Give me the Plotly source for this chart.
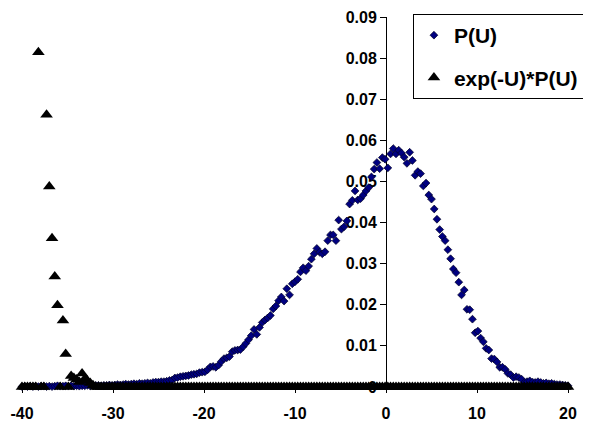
import plotly.graph_objects as go

# U values (bin centres), one row per 3 units
u_vals = [
    -40.0, -39.7, -39.4, -39.1, -38.8, -38.5, -38.2, -37.9, -37.6, -37.3,
    -37.0, -36.7, -36.4, -36.1, -35.8, -35.5, -35.2, -34.9, -34.6, -34.3,
    -34.0, -33.7, -33.4, -33.1, -32.8, -32.5, -32.2, -31.9, -31.6, -31.3,
    -31.0, -30.7, -30.4, -30.1, -29.8, -29.5, -29.2, -28.9, -28.6, -28.3,
    -28.0, -27.7, -27.4, -27.1, -26.8, -26.5, -26.2, -25.9, -25.6, -25.3,
    -25.0, -24.7, -24.4, -24.1, -23.8, -23.5, -23.2, -22.9, -22.6, -22.3,
    -22.0, -21.7, -21.4, -21.1, -20.8, -20.5, -20.2, -19.9, -19.6, -19.3,
    -19.0, -18.7, -18.4, -18.1, -17.8, -17.5, -17.2, -16.9, -16.6, -16.3,
    -16.0, -15.7, -15.4, -15.1, -14.8, -14.5, -14.2, -13.9, -13.6, -13.3,
    -13.0, -12.7, -12.4, -12.1, -11.8, -11.5, -11.2, -10.9, -10.6, -10.3,
    -10.0, -9.7, -9.4, -9.1, -8.8, -8.5, -8.2, -7.9, -7.6, -7.3,
    -7.0, -6.7, -6.4, -6.1, -5.8, -5.5, -5.2, -4.9, -4.6, -4.3,
    -4.0, -3.7, -3.4, -3.1, -2.8, -2.5, -2.2, -1.9, -1.6, -1.3,
    -1.0, -0.7, -0.4, -0.1, 0.2, 0.5, 0.8, 1.1, 1.4, 1.7,
    2.0, 2.3, 2.6, 2.9, 3.2, 3.5, 3.8, 4.1, 4.4, 4.7,
    5.0, 5.3, 5.6, 5.9, 6.2, 6.5, 6.8, 7.1, 7.4, 7.7,
    8.0, 8.3, 8.6, 8.9, 9.2, 9.5, 9.8, 10.1, 10.4, 10.7,
    11.0, 11.3, 11.6, 11.9, 12.2, 12.5, 12.8, 13.1, 13.4, 13.7,
    14.0, 14.3, 14.6, 14.9, 15.2, 15.5, 15.8, 16.1, 16.4, 16.7,
    17.0, 17.3, 17.6, 17.9, 18.2, 18.5, 18.8, 19.1, 19.4, 19.7,
    20.0,
]

p_u = [
    0.0001, 0.0002, 0.0001, 0.0002, 0.0001, 0.0002, 0.0001, 0.0002, 0.0002, 0.0001,
    0.0002, 0.0001, 0.0002, 0.0003, 0.0002, 0.0002, 0.0003, 0.0002, 0.0003, 0.0002,
    0.0003, 0.0002, 0.0003, 0.0003, 0.0004, 0.0003, 0.0003, 0.0004, 0.0004, 0.0003,
    0.0004, 0.0004, 0.0005, 0.0004, 0.0005, 0.0006, 0.0005, 0.0006, 0.0007, 0.0006,
    0.0007, 0.0008, 0.0007, 0.0009, 0.0008, 0.0009, 0.0010, 0.0009, 0.0011, 0.0012,
    0.0012, 0.0013, 0.0013, 0.0014, 0.0016, 0.0017, 0.0022, 0.0023, 0.0025, 0.0026,
    0.0027, 0.0028, 0.0030, 0.0031, 0.0032, 0.0035, 0.0036, 0.0037, 0.0042, 0.0049,
    0.0050, 0.0048, 0.0053, 0.0062, 0.0069, 0.0071, 0.0074, 0.0086, 0.0089, 0.0090,
    0.0091, 0.0098, 0.0106, 0.0115, 0.0125, 0.0140, 0.0128, 0.0145, 0.0157, 0.0163,
    0.0168, 0.0174, 0.0190, 0.0197, 0.0210, 0.0219, 0.0209, 0.0239, 0.0224, 0.0251,
    0.0256, 0.0262, 0.0280, 0.0290, 0.0283, 0.0294, 0.0311, 0.0324, 0.0337, 0.0328,
    0.0324, 0.0329, 0.0356, 0.0370, 0.0370, 0.0356, 0.0406, 0.0384, 0.0390, 0.0404,
    0.0445, 0.0454, 0.0477, 0.0455, 0.0458, 0.0467, 0.0477, 0.0485, 0.0511, 0.0530,
    0.0546, 0.0531, 0.0558, 0.0554, 0.0533, 0.0567, 0.0580, 0.0567, 0.0576, 0.0569,
    0.0559, 0.0544, 0.0571, 0.0551, 0.0515, 0.0524, 0.0519, 0.0489, 0.0496, 0.0467,
    0.0457, 0.0433, 0.0408, 0.0383, 0.0366, 0.0356, 0.0334, 0.0312, 0.0287, 0.0278,
    0.0255, 0.0224, 0.0236, 0.0189, 0.0188, 0.0165, 0.0132, 0.0136, 0.0119, 0.0110,
    0.0094, 0.0090, 0.0069, 0.0068, 0.0061, 0.0048, 0.0048, 0.0043, 0.0033, 0.0030,
    0.0023, 0.0025, 0.0023, 0.0019, 0.0011, 0.0013, 0.0015, 0.0012, 0.0011, 0.0013,
    0.0011, 0.0009, 0.0010, 0.0008, 0.0009, 0.0007, 0.0006, 0.0006, 0.0005, 0.0004,
    0.0003,
]

exp_p_u = [
    0, 0, 0, 0, 0, 0, 0.0814, 0, 0, 0.0662,
    0.0488, 0.0362, 0.0269, 0.0199, 0, 0.0162, 0.0080, 0, 0.0027, 0.0022,
    0.0018, 0.0012, 0.0033, 0.0020, 0.0015, 0.0010, 0.0004, 0, 0, 0,
    0, 0, 0, 0, 0, 0, 0, 0, 0, 0,
    0, 0, 0, 0, 0, 0, 0, 0, 0, 0,
    0, 0, 0, 0, 0, 0, 0, 0, 0, 0,
    0, 0, 0, 0, 0, 0, 0, 0, 0, 0,
    0, 0, 0, 0, 0, 0, 0, 0, 0, 0,
    0, 0, 0, 0, 0, 0, 0, 0, 0, 0,
    0, 0, 0, 0, 0, 0, 0, 0, 0, 0,
    0, 0, 0, 0, 0, 0, 0, 0, 0, 0,
    0, 0, 0, 0, 0, 0, 0, 0, 0, 0,
    0, 0, 0, 0, 0, 0, 0, 0, 0, 0,
    0, 0, 0, 0, 0, 0, 0, 0, 0, 0,
    0, 0, 0, 0, 0, 0, 0, 0, 0, 0,
    0, 0, 0, 0, 0, 0, 0, 0, 0, 0,
    0, 0, 0, 0, 0, 0, 0, 0, 0, 0,
    0, 0, 0, 0, 0, 0, 0, 0, 0, 0,
    0, 0, 0, 0, 0, 0, 0, 0, 0, 0,
    0, 0, 0, 0, 0, 0, 0, 0, 0, 0,
    0,
]

x_ticks = [-40, -30, -20, -10, 0, 10, 20]
x_labels = ['-40', '-30', '-20', '-10', '0', '10', '20']
y_ticks = [0, 0.01, 0.02, 0.03, 0.04, 0.05, 0.06, 0.07, 0.08, 0.09]
y_labels = ['0', '0.01', '0.02', '0.03', '0.04', '0.05', '0.06', '0.07', '0.08', '0.09']

FONT = "Arial, Liberation Sans, sans-serif"

fig = go.Figure()
fig.add_trace(go.Scatter(x=u_vals, y=p_u, mode='markers', name='P(U)',
                         legendgroup='a', cliponaxis=False,
                         marker=dict(symbol='diamond', size=6, color='#000080',
                                     line=dict(color='#000022', width=0.7))))
fig.add_trace(go.Scatter(x=u_vals, y=exp_p_u, mode='markers', name='exp(-U)*P(U)',
                         legendgroup='b', cliponaxis=False,
                         marker=dict(symbol='triangle-up', size=11, color='black')))

# page body has an 8px margin, so the figure is a bit smaller than the window
fig.update_layout(
    width=583, height=413,
    margin=dict(l=14, r=23, t=9, b=34, autoexpand=False),
    paper_bgcolor='white', plot_bgcolor='white',
    showlegend=True,
    legend=dict(x=0.716, y=1.008, xanchor='left', yanchor='top',
                bordercolor='black', borderwidth=1, bgcolor='white',
                tracegroupgap=12, traceorder='grouped', itemsizing='trace',
                font=dict(family=FONT, size=21, color='black', weight=700)),
    xaxis=dict(range=[-40, 20], tickvals=x_ticks, ticktext=x_labels,
               showgrid=False, zeroline=False, automargin=False,
               showline=True, linecolor='black', ticks='outside', ticklen=5,
               tickcolor='black', ticklabelstandoff=7, layer='below traces',
               tickfont=dict(family=FONT, size=16, color='black', weight=700)),
    yaxis=dict(range=[0, 0.09], tickvals=y_ticks, ticktext=y_labels,
               showgrid=False, zeroline=False, automargin=False,
               anchor='free', position=40 / 60, showline=True, linecolor='black',
               ticks='outside', ticklen=6, tickcolor='black', layer='below traces',
               tickfont=dict(family=FONT, size=16, color='black', weight=700)),
)

fig.write_html("out.html")
